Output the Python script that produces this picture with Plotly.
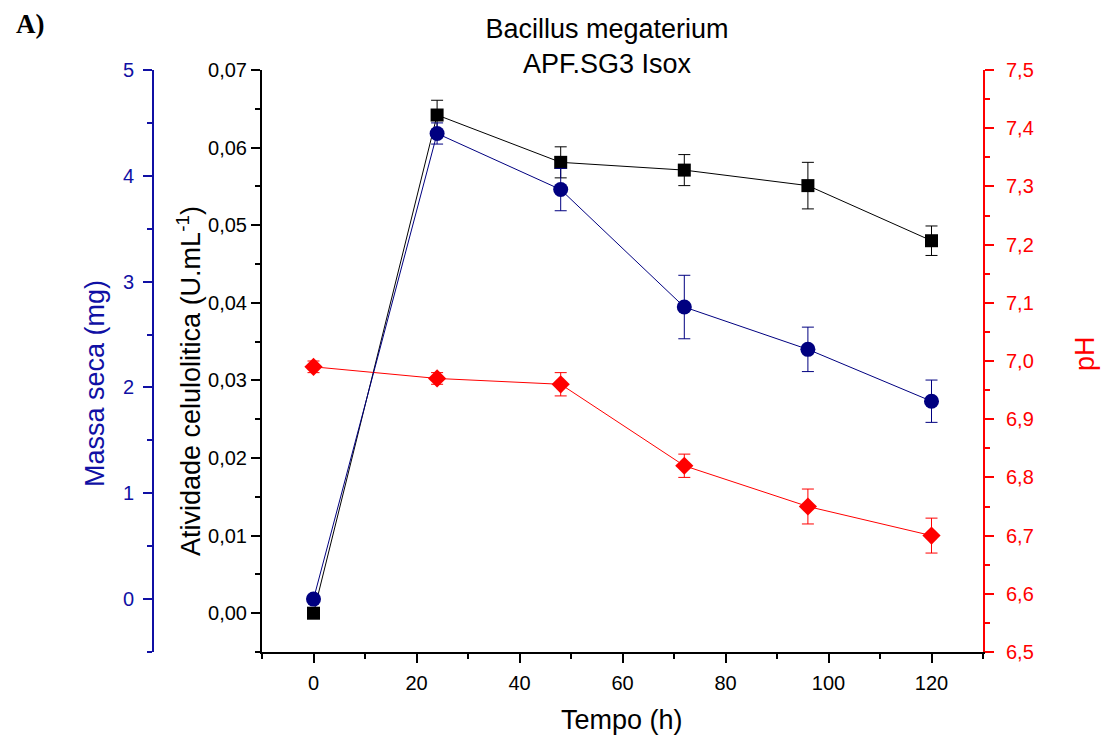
import plotly.graph_objects as go

# ---- data ----
tempo_h = [0, 24, 48, 72, 96, 120]
atividade = [0.0000, 0.0642, 0.0581, 0.0571, 0.0551, 0.0480]
atividade_err = [0.0, 0.0019, 0.0020, 0.0020, 0.0030, 0.0019]
massa_seca = [0.00, 4.40, 3.87, 2.76, 2.36, 1.87]
massa_seca_err = [0.0, 0.10, 0.20, 0.30, 0.21, 0.20]
ph = [6.99, 6.97, 6.96, 6.82, 6.75, 6.70]
ph_err = [0.01, 0.01, 0.02, 0.02, 0.03, 0.03]

OFF = 8                      # default page body margin
W, H = 1113 - OFF, 740 - OFF
# target page-pixel geometry
X0, X1 = 262, 983
Y0, Y1 = 70, 652
BLUE_AX = 153

FONT = "Liberation Sans, Arial, sans-serif"
NAVY = "#000080"
BLUE = "#1010A4"
RED = "#FF0000"


def px(xp):
    return (xp - OFF) / W


def py(yp):
    return (Y1 - yp) / (Y1 - Y0)


fig = go.Figure()

fig.add_trace(go.Scatter(
    x=tempo_h, y=ph, yaxis="y2", mode="lines+markers",
    line=dict(color=RED, width=1),
    marker=dict(symbol="diamond", size=14, color=RED),
    error_y=dict(type="data", array=ph_err, color=RED, thickness=1, width=6),
    name="pH", showlegend=False))

fig.add_trace(go.Scatter(
    x=tempo_h, y=massa_seca, yaxis="y3", mode="lines+markers",
    line=dict(color=NAVY, width=1),
    marker=dict(symbol="circle", size=15, color=NAVY),
    error_y=dict(type="data", array=massa_seca_err, color=NAVY, thickness=1, width=6),
    name="Massa seca", showlegend=False))

fig.add_trace(go.Scatter(
    x=tempo_h, y=atividade, yaxis="y", mode="lines+markers",
    line=dict(color="black", width=1),
    marker=dict(symbol="square", size=13, color="black"),
    error_y=dict(type="data", array=atividade_err, color="black", thickness=1, width=6),
    name="Atividade", showlegend=False))

dom = [px(X0), px(X1)]

fig.update_layout(
    width=W, height=H,
    margin=dict(l=0, r=0, t=Y0 - OFF, b=H - (Y1 - OFF), pad=0),
    paper_bgcolor="white", plot_bgcolor="white",
    separators=",.",
    showlegend=False,
    title=dict(text="Bacillus megaterium<br>APF.SG3 Isox",
               x=px(607), xanchor="center", xref="paper",
               y=1 - (38 - OFF) / H, yanchor="middle", yref="container",
               font=dict(family=FONT, size=27, color="black")),
    xaxis=dict(domain=dom, range=[-10, 130], tickmode="linear", tick0=0, dtick=20,
               showgrid=False, zeroline=False, showline=True, linecolor="black", linewidth=2,
               ticks="outside", ticklen=9, tickwidth=2, tickcolor="black",
               minor=dict(dtick=10, tick0=0, ticks="outside", ticklen=5, tickwidth=2, tickcolor="black"),
               ticklabelstandoff=3,
               tickfont=dict(family=FONT, size=20, color="black"), automargin=False),
    yaxis=dict(range=[-0.005, 0.07], tickmode="linear", tick0=0, dtick=0.01, tickformat=".2f",
               showgrid=False, zeroline=False, showline=True, linecolor="black", linewidth=2,
               ticks="outside", ticklen=9, tickwidth=2, tickcolor="black",
               minor=dict(dtick=0.005, tick0=0, ticks="outside", ticklen=5, tickwidth=2, tickcolor="black"),
               tickfont=dict(family=FONT, size=20, color="black"), automargin=False),
    yaxis2=dict(range=[6.5, 7.5], overlaying="y", side="right", anchor="x",
                tickmode="linear", tick0=6.5, dtick=0.1, tickformat=".1f",
                showgrid=False, zeroline=False, showline=True, linecolor=RED, linewidth=2,
                ticks="outside", ticklen=9, tickwidth=2, tickcolor=RED,
                minor=dict(dtick=0.05, tick0=6.5, ticks="outside", ticklen=5, tickwidth=2, tickcolor=RED),
                ticklabelstandoff=8,
                tickfont=dict(family=FONT, size=20, color=RED), automargin=False),
    yaxis3=dict(range=[-0.5, 5], overlaying="y", side="left", anchor="free", position=px(BLUE_AX),
                tickmode="linear", tick0=0, dtick=1,
                showgrid=False, zeroline=False, showline=True, linecolor=BLUE, linewidth=2,
                ticks="outside", ticklen=9, tickwidth=2, tickcolor=BLUE,
                minor=dict(dtick=0.5, tick0=0, ticks="outside", ticklen=5, tickwidth=2, tickcolor=BLUE),
                ticklabelstandoff=5,
                tickfont=dict(family=FONT, size=20, color=BLUE), automargin=False),
)

TS = 27
fig.add_annotation(text="Tempo (h)", x=px(622), y=py(720), xref="paper", yref="paper",
                   showarrow=False, xanchor="center", yanchor="middle",
                   font=dict(family=FONT, size=TS, color="black"))
fig.add_annotation(text="Massa seca (mg)", x=px(95), y=py(384), xref="paper", yref="paper",
                   showarrow=False, textangle=-90, xanchor="center", yanchor="middle",
                   font=dict(family=FONT, size=TS, color=BLUE))
fig.add_annotation(text="Atividade celulolitica (U.mL<sup>-1</sup>)", x=px(189), y=py(381),
                   xref="paper", yref="paper", showarrow=False, textangle=-90,
                   xanchor="center", yanchor="middle", font=dict(family=FONT, size=TS, color="black"))
fig.add_annotation(text="pH", x=px(1085), y=py(354), xref="paper", yref="paper",
                   showarrow=False, textangle=-90, xanchor="center", yanchor="middle",
                   font=dict(family=FONT, size=TS, color=RED))
fig.add_annotation(text="<b>A)</b>", x=px(30), y=py(24), xref="paper", yref="paper",
                   showarrow=False, xanchor="center", yanchor="middle",
                   font=dict(family="Liberation Serif, Times New Roman, serif", size=27, color="black"))

fig.write_html("out.html")
